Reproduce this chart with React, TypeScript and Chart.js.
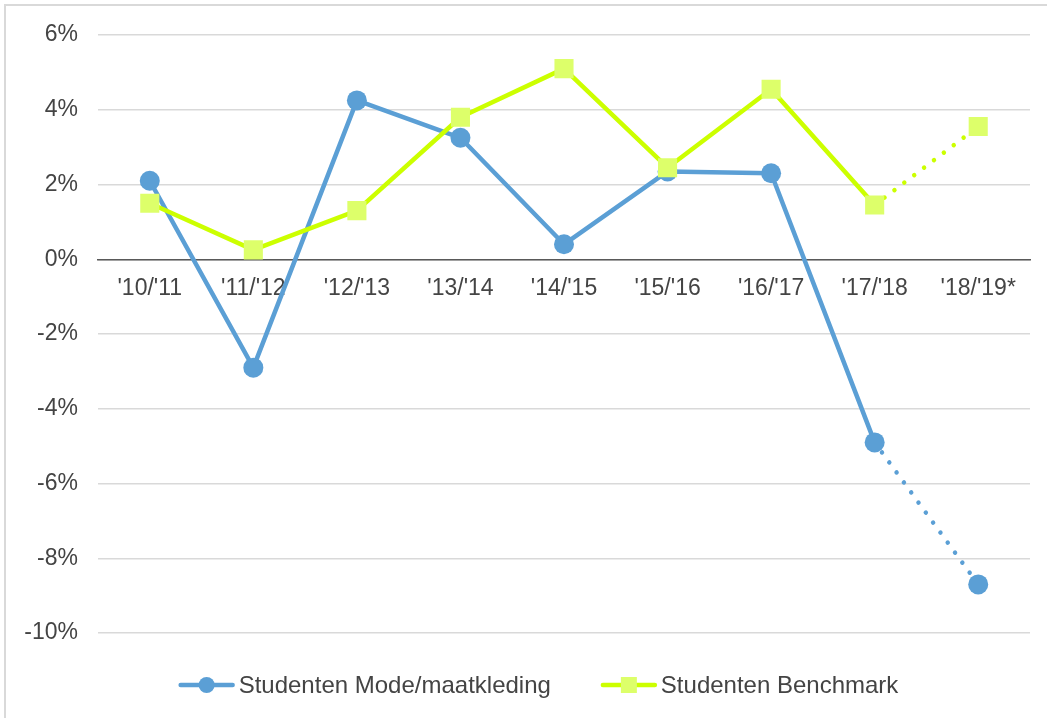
import React, { useEffect, useRef } from "react";
import { Chart, registerables } from "chart.js";

Chart.register(...registerables);

const categories = ["'10/'11", "'11/'12", "'12/'13", "'13/'14", "'14/'15", "'15/'16", "'16/'17", "'17/'18", "'18/'19*"];
const modeValues = [2.1, -2.9, 4.25, 3.25, 0.4, 2.35, 2.3, -4.9, -8.7];
const benchmarkValues = [1.5, 0.25, 1.3, 3.8, 5.1, 2.45, 4.55, 1.45, 3.55];
const seriesNames = ["Studenten Mode/maatkleding", "Studenten Benchmark"];
const yMin = -10;
const yMax = 6;
const yStep = 2;

const BLUE = "#5B9FD5";
const LIME_LINE = "#CCFF00";
const LIME_MARK = "#DDFF6A";
const TEXT = "#444444";
const FONT = "'Liberation Sans', Arial, sans-serif";

const legendPlugin = {
  id: "customLegend",
  afterDraw(chart: any) {
    const ctx = chart.ctx;
    const y = 685;
    const lineLen = 56;
    const gapText = 4;
    const gapItems = 50;
    ctx.save();
    ctx.font = `24px ${FONT}`;
    const w1 = ctx.measureText(seriesNames[0]).width;
    const w2 = ctx.measureText(seriesNames[1]).width;
    const total = lineLen + gapText + w1 + gapItems + lineLen + gapText + w2;
    let x = chart.width / 2 + 15 - total / 2;
    // item 1
    ctx.strokeStyle = BLUE;
    ctx.lineWidth = 4.5;
    ctx.lineCap = "round";
    ctx.beginPath();
    ctx.moveTo(x + 2, y);
    ctx.lineTo(x + lineLen - 2, y);
    ctx.stroke();
    ctx.fillStyle = BLUE;
    ctx.beginPath();
    ctx.arc(x + lineLen / 2, y, 8, 0, Math.PI * 2);
    ctx.fill();
    ctx.fillStyle = TEXT;
    ctx.textBaseline = "middle";
    ctx.textAlign = "left";
    ctx.fillText(seriesNames[0], x + lineLen + gapText, y + 1);
    x += lineLen + gapText + w1 + gapItems;
    // item 2
    ctx.strokeStyle = LIME_LINE;
    ctx.beginPath();
    ctx.moveTo(x + 2, y);
    ctx.lineTo(x + lineLen - 2, y);
    ctx.stroke();
    ctx.fillStyle = LIME_MARK;
    ctx.fillRect(x + lineLen / 2 - 8, y - 8, 16, 16);
    ctx.fillStyle = TEXT;
    ctx.fillText(seriesNames[1], x + lineLen + gapText, y + 1);
    ctx.restore();
  },
};

const dotted = (ctx: any) => (ctx.p1DataIndex === categories.length - 1 ? [0.001, 12.4] : undefined);

export default function App() {
  const canvasRef = useRef<HTMLCanvasElement>(null);

  useEffect(() => {
    document.body.style.margin = "0";
    document.body.style.overflow = "hidden";
    const chart = new Chart(canvasRef.current!, {
      type: "line",
      data: {
        labels: categories,
        datasets: [
          {
            label: seriesNames[0],
            data: modeValues,
            borderColor: BLUE,
            backgroundColor: BLUE,
            borderWidth: 4.5,
            borderCapStyle: "round",
            borderJoinStyle: "round",
            pointStyle: "circle",
            pointRadius: 10,
            pointBorderWidth: 0,
            pointBackgroundColor: BLUE,
            tension: 0,
            order: 1,
            segment: { borderDash: dotted },
          },
          {
            label: seriesNames[1],
            data: benchmarkValues,
            borderColor: LIME_LINE,
            backgroundColor: LIME_MARK,
            borderWidth: 4.5,
            borderCapStyle: "round",
            borderJoinStyle: "round",
            pointStyle: "rect",
            pointRadius: 13.5,
            pointBorderWidth: 0,
            pointBackgroundColor: LIME_MARK,
            tension: 0,
            order: 0,
            segment: { borderDash: dotted },
          },
        ],
      },
      options: {
        animation: false,
        responsive: false,
        maintainAspectRatio: false,
        layout: { padding: { left: 0, right: 17, top: 35, bottom: 85 } },
        plugins: {
          legend: { display: false },
          tooltip: { enabled: false },
        },
        scales: {
          x: {
            type: "category",
            position: { y: 0 },
            offset: true,
            grid: { display: false, drawTicks: false },
            border: { display: true, color: "#595959", width: 1.5 },
            ticks: {
              color: TEXT,
              font: { family: FONT, size: 23 },
              padding: 16,
              maxRotation: 0,
              autoSkip: false,
            },
          },
          y: {
            min: yMin,
            max: yMax,
            afterFit: (scale: any) => {
              scale.width = 98;
            },
            grid: { color: "#d9d9d9", lineWidth: 1.5, drawTicks: false },
            border: { display: false },
            ticks: {
              stepSize: yStep,
              color: TEXT,
              font: { family: FONT, size: 23 },
              padding: 20,
              callback: (v: any) => `${v}%`,
            },
          },
        },
      },
      plugins: [legendPlugin],
    });
    return () => chart.destroy();
  }, []);

  return (
    <div style={{ position: "relative", width: 1047, height: 718, overflow: "hidden", background: "#fff" }}>
      <div
        style={{
          position: "absolute",
          left: 4,
          top: 4,
          width: 1100,
          height: 800,
          borderLeft: "2px solid #d9d9d9",
          borderTop: "2px solid #d9d9d9",
        }}
      />
      <canvas ref={canvasRef} width={1047} height={718} style={{ position: "absolute", left: 0, top: 0 }} />
    </div>
  );
}
